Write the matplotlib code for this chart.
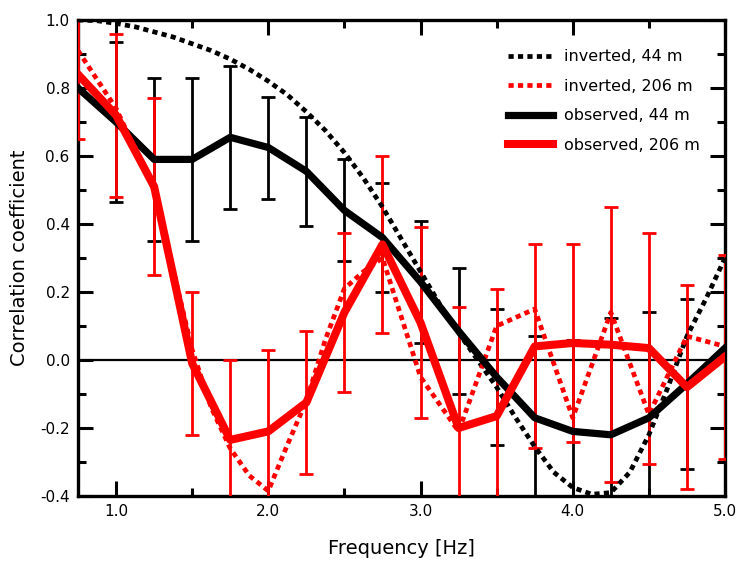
import matplotlib
matplotlib.use("Agg")
import matplotlib.pyplot as plt
import numpy as np
from matplotlib.ticker import MultipleLocator, FixedLocator

plt.rcParams['font.family'] = ['DejaVu Sans']

# ---- data ----
freq = [0.75, 1.0, 1.25, 1.5, 1.75, 2.0, 2.25, 2.5, 2.75, 3.0, 3.25, 3.5,
        3.75, 4.0, 4.25, 4.5, 4.75, 5.0]

obs_44 = [0.80, 0.70, 0.59, 0.59, 0.655, 0.625, 0.555, 0.44, 0.36, 0.23,
          0.085, -0.05, -0.17, -0.21, -0.22, -0.17, -0.07, 0.035]
err_44 = [0.0, 0.235, 0.24, 0.24, 0.21, 0.15, 0.16, 0.15, 0.16, 0.18,
          0.185, 0.20, 0.24, 0.27, 0.345, 0.31, 0.25, 0.0]

obs_206 = [0.84, 0.72, 0.51, -0.01, -0.235, -0.21, -0.125, 0.14, 0.34, 0.11,
           -0.20, -0.165, 0.04, 0.05, 0.045, 0.035, -0.08, 0.01]
err_206 = [0.19, 0.24, 0.26, 0.21, 0.235, 0.24, 0.21, 0.235, 0.26, 0.28,
           0.355, 0.375, 0.30, 0.29, 0.405, 0.34, 0.30, 0.30]

freq_inv44 = [0.75, 0.875, 1.0, 1.125, 1.25, 1.375, 1.5, 1.625, 1.75, 1.875,
              2.0, 2.125, 2.25, 2.375, 2.5, 2.625, 2.75, 2.875, 3.0, 3.125,
              3.25, 3.375, 3.5, 3.625, 3.75, 3.875, 4.0, 4.125, 4.25, 4.375,
              4.5, 4.625, 4.75, 4.875, 5.0]
inv_44 = [1.0, 0.998, 0.99, 0.98, 0.965, 0.95, 0.93, 0.91, 0.885, 0.855,
          0.82, 0.78, 0.73, 0.675, 0.61, 0.535, 0.45, 0.355, 0.26, 0.165,
          0.08, 0.0, -0.08, -0.17, -0.255, -0.33, -0.375, -0.395, -0.39, -0.33,
          -0.22, -0.08, 0.07, 0.18, 0.30]

freq_inv206 = [0.75, 1.0, 1.25, 1.5, 1.625, 1.75, 1.875, 2.0, 2.125, 2.25,
               2.375, 2.5, 2.625, 2.75, 3.0, 3.25, 3.5, 3.75, 4.0, 4.25,
               4.5, 4.75, 5.0]
inv_206 = [0.91, 0.74, 0.50, 0.03, -0.14, -0.26, -0.34, -0.385, -0.25, -0.12,
           0.06, 0.21, 0.26, 0.30, -0.05, -0.21, 0.10, 0.15, -0.17, 0.14,
           -0.16, 0.07, 0.04]

# ---- figure ----
fig = plt.figure(figsize=(7.38, 5.62), dpi=100)
ax = fig.add_axes([78/738, 1-496/562, (725-78)/738, (496-20)/562])

ax.axhline(0, color='black', lw=1.6, zorder=1)

f = np.array(freq)
ax.errorbar(f[1:-1], np.array(obs_44)[1:-1], yerr=np.array(err_44)[1:-1],
            fmt='none', ecolor='black', elinewidth=2, capsize=5, capthick=2, zorder=2)
ax.errorbar(f, obs_206, yerr=err_206,
            fmt='none', ecolor='red', elinewidth=2, capsize=5, capthick=2, zorder=3)

l1, = ax.plot(freq_inv44, inv_44, color='black', lw=3.4, dashes=(1.1, 0.9),
              label='inverted, 44 m', zorder=4)
l2, = ax.plot(freq_inv206, inv_206, color='red', lw=3.4, dashes=(1.1, 0.9),
              label='inverted, 206 m', zorder=5)
l3, = ax.plot(freq, obs_44, color='black', lw=5.2, label='observed, 44 m', zorder=6)
l4, = ax.plot(freq, obs_206, color='red', lw=5.8, label='observed, 206 m', zorder=7)

ax.set_xlim(0.75, 5.0)
ax.set_ylim(-0.4, 1.0)
ax.xaxis.set_major_locator(FixedLocator([1, 2, 3, 4, 5]))
ax.xaxis.set_minor_locator(FixedLocator([1.5, 2.5, 3.5, 4.5]))
ax.yaxis.set_major_locator(MultipleLocator(0.2))
ax.yaxis.set_minor_locator(MultipleLocator(0.1))
ax.xaxis.set_major_formatter(plt.FuncFormatter(lambda v, p: f"{v:.1f}"))
ax.yaxis.set_major_formatter(plt.FuncFormatter(lambda v, p: f"{v:.1f}"))

ax.tick_params(which='both', direction='in', top=True, right=True, width=2.2,
               labelsize=11, color='black')
ax.tick_params(which='major', length=11, pad=6)
ax.tick_params(which='minor', length=6)
for s in ax.spines.values():
    s.set_linewidth(2.4)

ax.set_xlabel('Frequency [Hz]', fontsize=14, labelpad=14)
ax.set_ylabel('Correlation coefficient', fontsize=14, labelpad=8)

leg = ax.legend(handles=[l1, l2, l3, l4], loc='upper left', frameon=False,
                fontsize=11.5, handlelength=2.8, handletextpad=0.7,
                labelspacing=0.9, borderpad=0.3,
                bbox_to_anchor=(0.645, 0.965))

fig.savefig('out.png', dpi=100)
